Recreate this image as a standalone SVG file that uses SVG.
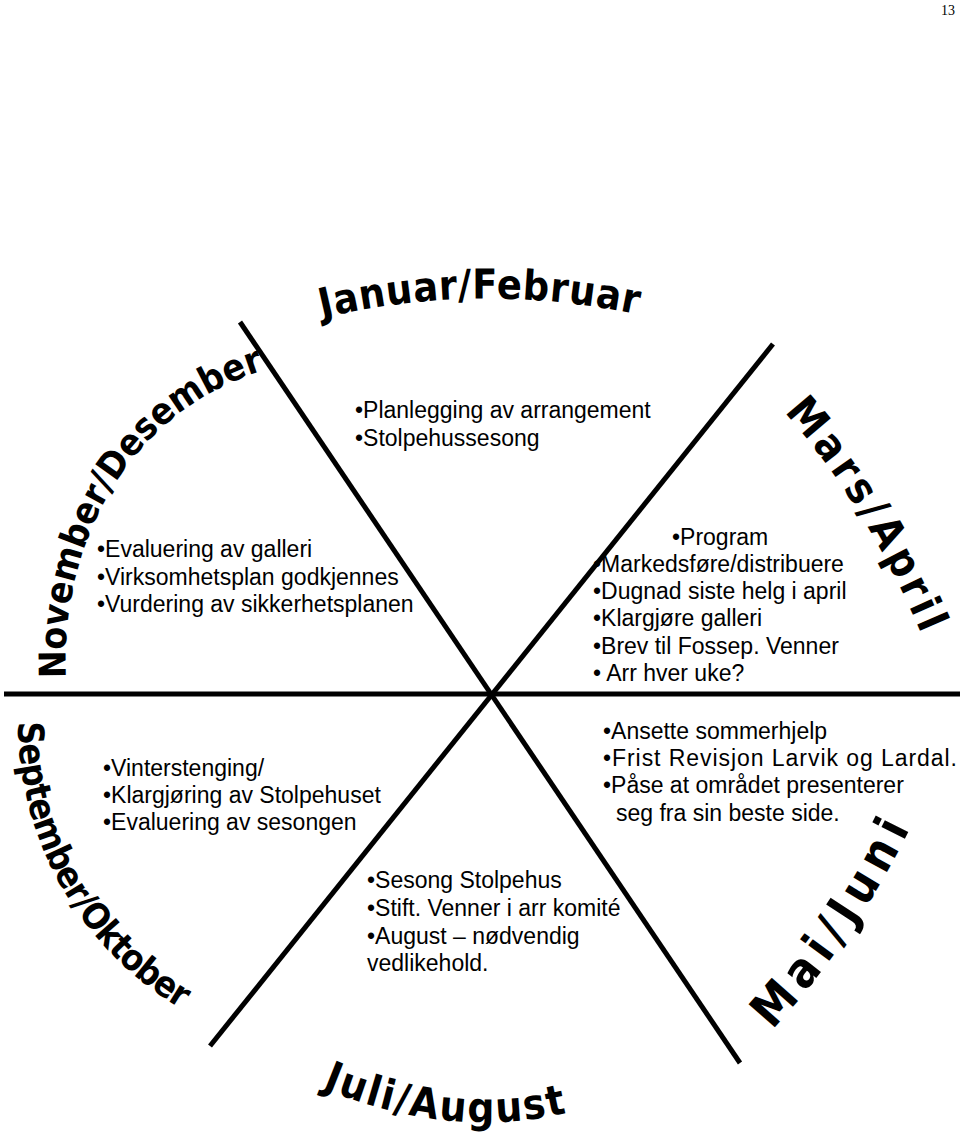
<svg xmlns="http://www.w3.org/2000/svg" width="960" height="1142" viewBox="0 0 960 1142">
<style>
.t{font-family:"Liberation Sans",Arial,sans-serif;font-size:23px;fill:#000}
.m{font-family:"DejaVu Sans Condensed","DejaVu Sans",sans-serif;font-weight:bold;font-stretch:condensed;fill:#000}
.ln{stroke:#000;stroke-width:5;fill:none}
.pg{font-family:"Liberation Serif","Times New Roman",serif;font-size:14px;fill:#000}
</style>
<defs>
<path id="pJan" d="M 322 318 Q 482 280 645 316"/>
<path id="pMar" d="M 784 412 Q 872 510 930 655"/>
<path id="pMai" d="M 772 1030 Q 860 935 918 812"/>
<path id="pJul" d="M 322 1088 Q 455 1143 578 1110"/>
<path id="pSep" d="M 18 722 C 18 850 90 960 192 1015"/>
<path id="pNov" d="M 66 678 C 60 560 115 420 258 372"/>
</defs>
<rect width="960" height="1142" fill="#fff"/>
<text class="pg" x="941" y="15">13</text>

<g id="label-jan-feb"><text class="m" font-size="41"><textPath href="#pJan" textLength="318" lengthAdjust="spacing">Januar/Februar</textPath></text></g>
<g id="label-mar-apr"><text class="m" font-size="43"><textPath href="#pMar" textLength="262" lengthAdjust="spacing">Mars/April</textPath></text></g>
<g id="label-mai-jun"><text class="m" font-size="48"><textPath href="#pMai" textLength="245" lengthAdjust="spacing">Mai/Juni</textPath></text></g>
<g id="label-jul-aug"><text class="m" font-size="42"><textPath href="#pJul" textLength="250" lengthAdjust="spacing">Juli/August</textPath></text></g>
<g id="label-sep-okt"><text class="m" font-size="36"><textPath href="#pSep" textLength="345" lengthAdjust="spacing">September/Oktober</textPath></text></g>
<g id="label-nov-des"><text class="m" font-size="37"><textPath href="#pNov" textLength="395" lengthAdjust="spacing">November/Desember</textPath></text></g>

<g id="tasks-jan-feb" class="t">
<text x="355" y="418">•Planlegging av arrangement</text>
<text x="355" y="446">•Stolpehussesong</text>
</g>
<g id="tasks-nov-des" class="t">
<text x="97" y="557">•Evaluering av galleri</text>
<text x="97" y="585">•Virksomhetsplan godkjennes</text>
<text x="97" y="612">•Vurdering av sikkerhetsplanen</text>
</g>
<g id="tasks-mar-apr" class="t">
<text x="672" y="545">•Program</text>
<text x="593" y="572">•Markedsføre/distribuere</text>
<text x="593" y="599">•Dugnad siste helg i april</text>
<text x="593" y="626">•Klargjøre galleri</text>
<text x="593" y="654">•Brev til Fossep. Venner</text>
<text x="593" y="681">• Arr hver uke?</text>
</g>
<g id="tasks-sep-okt" class="t">
<text x="103" y="776">•Vinterstenging/</text>
<text x="103" y="803">•Klargjøring av Stolpehuset</text>
<text x="103" y="830">•Evaluering av sesongen</text>
</g>
<g id="tasks-mai-jun" class="t">
<text x="603" y="739">•Ansette sommerhjelp</text>
<text x="603" y="766" textLength="354" lengthAdjust="spacing">•Frist Revisjon Larvik og Lardal.</text>
<text x="603" y="793">•Påse at området presenterer</text>
<text x="616" y="821">seg fra sin beste side.</text>
</g>
<g id="tasks-jul-aug" class="t">
<text x="367" y="888">•Sesong Stolpehus</text>
<text x="367" y="916">•Stift. Venner i arr komité</text>
<text x="367" y="944">•August – nødvendig</text>
<text x="367" y="971">vedlikehold.</text>
</g>

<g id="connectors">
<line class="ln" x1="4" y1="694" x2="960" y2="694"/>
<line class="ln" x1="240" y1="322" x2="740" y2="1063"/>
<line class="ln" x1="773" y1="344" x2="210" y2="1046"/>
</g>
</svg>
